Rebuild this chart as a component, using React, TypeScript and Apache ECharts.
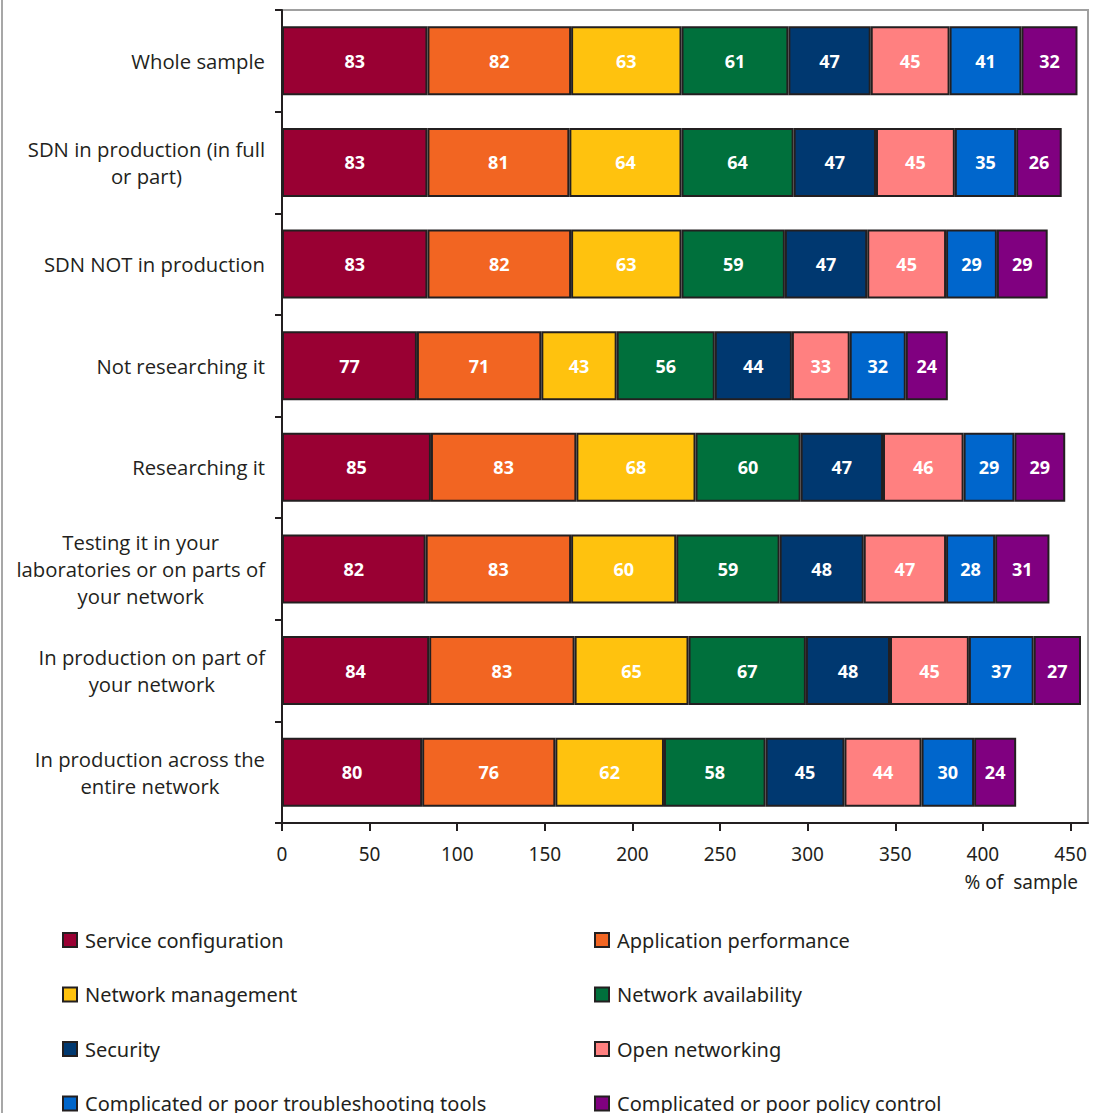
import React, { useEffect, useRef } from "react";
import * as echarts from "echarts";

const categories = [
  "Whole sample",
  "SDN in production (in full\nor part)",
  "SDN NOT in production",
  "Not researching it",
  "Researching it",
  "Testing it in your\nlaboratories or on parts of\nyour network",
  "In production on part of\nyour network",
  "In production across the\nentire network",
];

const seriesNames = [
  "Service configuration",
  "Application performance",
  "Network management",
  "Network availability",
  "Security",
  "Open networking",
  "Complicated or poor troubleshooting tools",
  "Complicated or poor policy control",
];

const serviceConfiguration = [83, 83, 83, 77, 85, 82, 84, 80];
const applicationPerformance = [82, 81, 82, 71, 83, 83, 83, 76];
const networkManagement = [63, 64, 63, 43, 68, 60, 65, 62];
const networkAvailability = [61, 64, 59, 56, 60, 59, 67, 58];
const security = [47, 47, 47, 44, 47, 48, 48, 45];
const openNetworking = [45, 45, 45, 33, 46, 47, 45, 44];
const troubleshootingTools = [41, 35, 29, 32, 29, 28, 37, 30];
const policyControl = [32, 26, 29, 24, 29, 31, 27, 24];

const xTicks = [0, 50, 100, 150, 200, 250, 300, 350, 400, 450];

const colors = [
  "#990033",
  "#F26522",
  "#FFC20E",
  "#00703C",
  "#003870",
  "#FF8080",
  "#0066CC",
  "#800080",
];

const allValues = [
  serviceConfiguration,
  applicationPerformance,
  networkManagement,
  networkAvailability,
  security,
  openNetworking,
  troubleshootingTools,
  policyControl,
];

const CONDENSED = "'Noto Sans', 'Open Sans', sans-serif";
const MAIN = "'Open Sans', 'Noto Sans', sans-serif";

export default function App() {
  const ref = useRef<HTMLDivElement>(null);
  useEffect(() => {
    if (!ref.current) return;
    const chart = echarts.init(ref.current, null, { renderer: "svg" });
    const leftNames = [seriesNames[0], seriesNames[2], seriesNames[4], seriesNames[6]];
    const rightNames = [seriesNames[1], seriesNames[3], seriesNames[5], seriesNames[7]];
    const legendCommon = {
      orient: "vertical" as const,
      top: 930,
      height: 260,
      padding: 0,
      itemWidth: 14,
      itemHeight: 14,
      itemGap: 34.5,
      icon: "rect",
      textStyle: {
        fontFamily: CONDENSED,
        fontSize: 20,
        lineHeight: 20,
        color: "#231f20",
        padding: [0, 0, 0, 3],
      },
    };
    chart.setOption({
      animation: false,
      backgroundColor: "#ffffff",
      grid: {
        left: 282,
        right: 21,
        top: 10,
        bottom: 290,
        show: true,
        borderColor: "#a0a0a0",
        borderWidth: 2,
        containLabel: false,
      },
      legend: [
        { ...legendCommon, left: 62, data: leftNames },
        { ...legendCommon, left: 594, data: rightNames },
      ],
      xAxis: {
        type: "value",
        min: 0,
        max: 460,
        interval: 50,
        splitLine: { show: false },
        axisLine: { show: true, lineStyle: { color: "#231f20", width: 2 } },
        axisTick: {
          show: true,
          length: 8,
          lineStyle: { color: "#231f20", width: 2 },
          customValues: xTicks,
        },
        axisLabel: {
          margin: 21,
          fontFamily: CONDENSED,
          fontSize: 19,
          color: "#231f20",
          customValues: xTicks,
        },
      },
      yAxis: {
        type: "category",
        inverse: true,
        data: categories,
        axisLine: { show: true, lineStyle: { color: "#231f20", width: 2 } },
        axisTick: { show: true, length: 7, lineStyle: { color: "#231f20", width: 2 } },
        axisLabel: {
          margin: 17,
          align: "right",
          color: "#231f20",
          fontFamily: MAIN,
          fontSize: 20.3,
          lineHeight: 27,
          formatter: (v: string) => `{c|${v}}`,
          rich: {
            c: {
              align: "center",
              fontFamily: MAIN,
              fontSize: 20.3,
              lineHeight: 27,
              color: "#231f20",
            },
          },
        },
      },
      graphic: [
        {
          type: "text",
          right: 31,
          top: 872,
          style: {
            text: "% of  sample",
            fontFamily: CONDENSED,
            fontSize: 19,
            fill: "#231f20",
          },
        },
        {
          type: "line",
          shape: { x1: 2, y1: 0, x2: 2, y2: 1113 },
          style: { stroke: "#8a8a8a", lineWidth: 1.5 },
        },
      ],
      series: seriesNames.map((name, i) => ({
        name,
        type: "bar",
        stack: "total",
        barCategoryGap: "32%",
        data: allValues[i],
        itemStyle: { color: colors[i], borderColor: "#231f20", borderWidth: 2 },
        label: {
          show: true,
          position: "inside",
          color: "#ffffff",
          fontFamily: MAIN,
          fontWeight: "bold",
          fontSize: 18,
        },
      })),
    });
    return () => chart.dispose();
  }, []);
  return (
    <div
      ref={ref}
      style={{ position: "absolute", left: 0, top: 0, width: 1109, height: 1113 }}
    />
  );
}
